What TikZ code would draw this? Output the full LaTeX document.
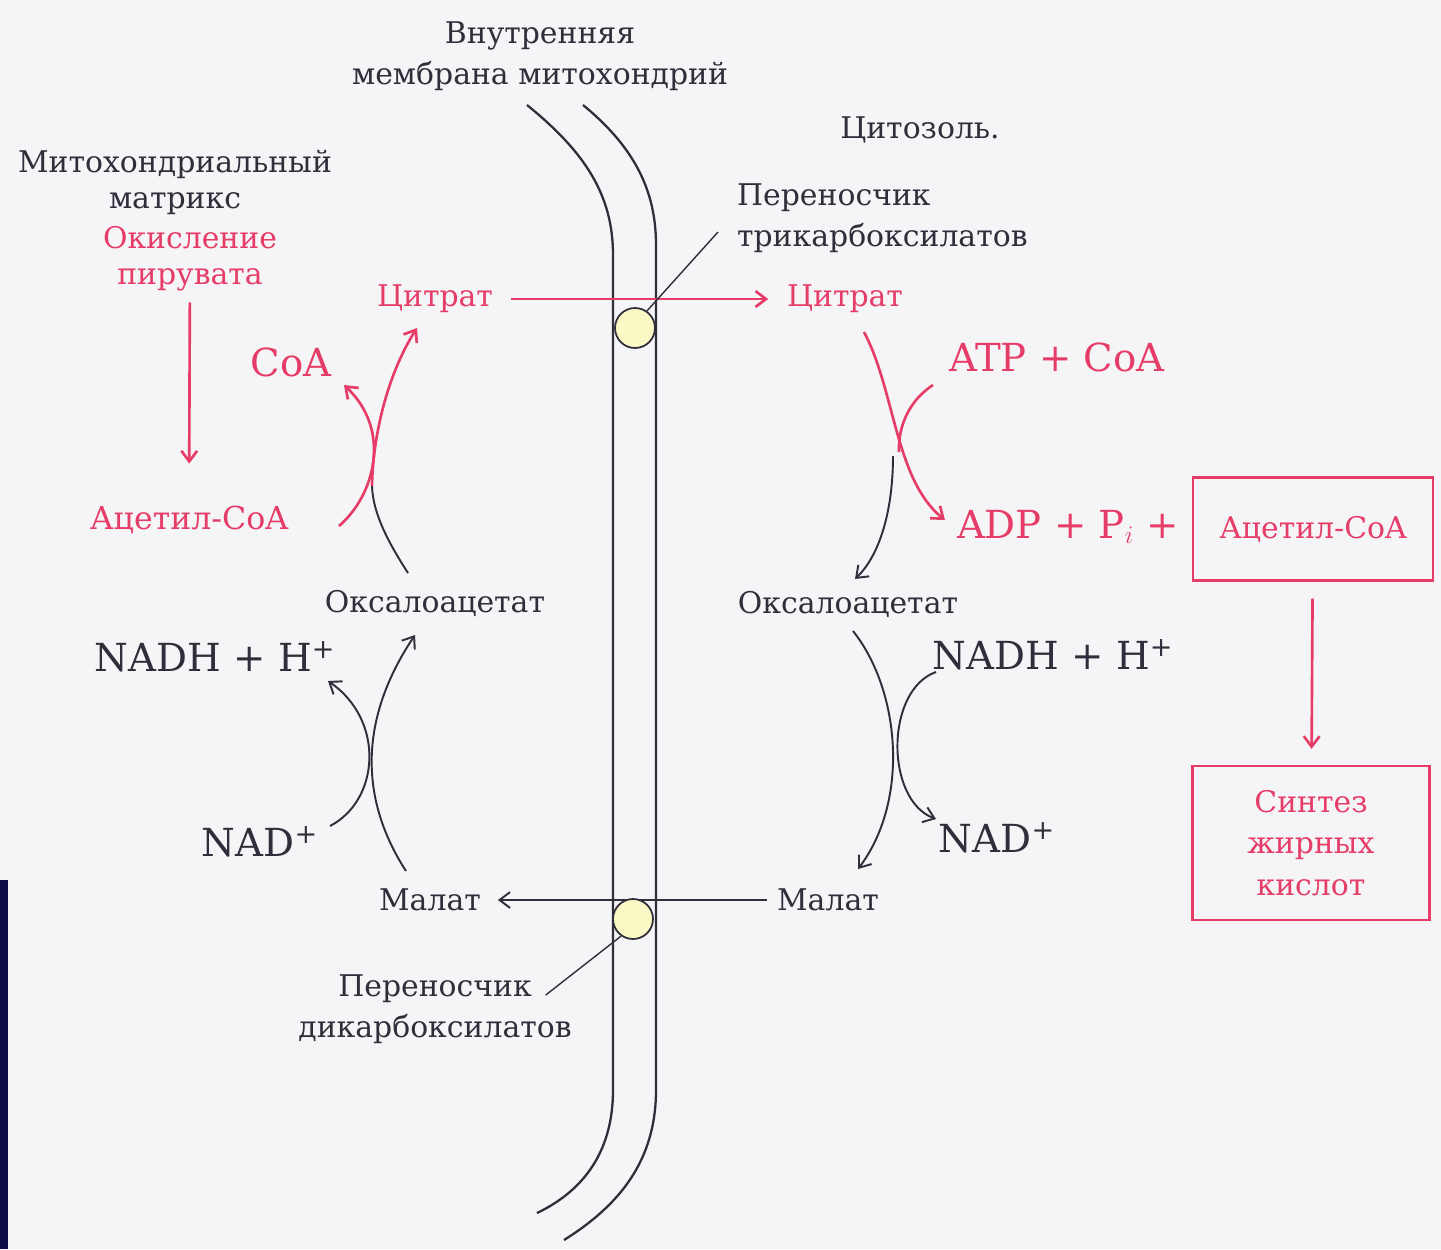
\documentclass[tikz,border=0pt]{standalone}
\usepackage{fontspec}
\setmainfont{DejaVu Serif}
\usetikzlibrary{arrows.meta,positioning}
\definecolor{inkgray}{RGB}{48,46,58}
\definecolor{pinkred}{RGB}{230,60,104}
\definecolor{paper}{RGB}{245,245,247}
\definecolor{carrierfill}{RGB}{250,248,196}
\definecolor{slidenavy}{RGB}{12,12,72}
\def\lblfont{\fontsize{17}{23.5}\selectfont}
\def\tightfont{\fontsize{17}{20.5}\selectfont}
\def\bigfont{\fontsize{22}{26}\selectfont}

\begin{document}
\begin{tikzpicture}[
    x=0.02cm, y=-0.02cm,
    arrowtip/.style={
      -{Straight Barb[length=6pt,width=9pt]}
    },
    membr/.style={draw=inkgray, line width=1.3pt},
    blackline/.style={draw=inkgray, line width=1.1pt},
    redline/.style={draw=pinkred, line width=1.5pt},
    leader/.style={draw=inkgray, line width=0.8pt},
    lbl/.style={text=inkgray, font=\lblfont, inner sep=1pt, align=center},
    redlbl/.style={lbl, text=pinkred},
    biglbl/.style={lbl, font=\bigfont},
    bigred/.style={biglbl, text=pinkred},
    carrier/.style={circle, draw=inkgray, fill=carrierfill, line width=1pt,
      minimum size=0.8cm, inner sep=0pt},
    resbox/.style={draw=pinkred, line width=1.5pt, text=pinkred, font=\lblfont,
      align=center, inner sep=0pt}
  ]
    % page and slide edge
    \fill[paper] (0,0) rectangle (1441,1249);
    \fill[slidenavy] (0,880) rectangle (8,1249);

    % membrane
    \draw[membr] (527,105) .. controls (585,152) and (613,195) .. (613,255)
      -- (613,1090) .. controls (613,1150) and (585,1190) .. (537,1213);
    \draw[membr] (583,105) .. controls (638,150) and (656,195) .. (656,245)
      -- (656,1090) .. controls (656,1160) and (620,1205) .. (564,1240);

    \node[lbl] (title) at (540,56) {Внутренняя\\мембрана митохондрий};
    \node[lbl] (cyto) at (920,130) {Цитозоль.};
    \node[lbl, font=\tightfont] (matrix) at (175,182) {Митохондриальный\\матрикс};
    \node[redlbl, font=\tightfont] (pyr) at (190,259) {Окисление\\пирувата};
    \node[redlbl] (citL) at (435,299) {Цитрат};
    \node[redlbl] (citR) at (845,299) {Цитрат};
    \node[redlbl, font=\fontsize{18}{22}\selectfont] (acL) at (189,520) {Ацетил-CoA};
    \node[lbl] (oxL) at (435,603) {Оксалоацетат};
    \node[lbl] (oxR) at (848,604) {Оксалоацетат};
    \node[lbl] (malL) at (430,900) {Малат};
    \node[lbl] (malR) at (828,900) {Малат};
    \node[lbl] (dicarrier) at (435,1009) {Переносчик\\дикарбоксилатов};
    \node[lbl, anchor=west, align=left] (trcarrier) at (735,218)
      {Переносчик\\трикарбоксилатов};

    \node[bigred] (coaL) at (291,362) {CoA};
    \node[bigred] (atp) at (1057,357) {ATP + CoA};
    \node[bigred] (adp) at (1068,527) {ADP + P$_i$ +};
    \node[biglbl] (nadhL) at (215,657) {NADH + H\textsuperscript{+}};
    \node[biglbl] (nadL) at (260,842) {NAD\textsuperscript{+}};
    \node[biglbl] (nadhR) at (1053,655) {NADH + H\textsuperscript{+}};
    \node[biglbl] (nadR) at (997,838) {NAD\textsuperscript{+}};

    \node[resbox, minimum width=4.8cm, minimum height=2.06cm] (acR) at (1313,529) {Ацетил-CoA};
    \node[resbox, minimum width=4.74cm, minimum height=3.08cm] (fas) at (1311,843)
      {Синтез\\жирных\\кислот};

    % transport across the membrane
    \draw[redline, arrowtip, shorten <=9pt, shorten >=9.5pt] (citL) -- (citR);
    \draw[blackline, arrowtip, shorten <=4.5pt, shorten >=8.5pt] (malR) -- (malL);
    \node[carrier] (carT) at (635,328) {};
    \node[carrier] (carB) at (633,919) {};
    \draw[leader] (carT.55) -- ([shift={(-17,14)}]trcarrier.west);
    \draw[leader] (carB.235) -- ([shift={(-28,-14)}]dicarrier.east);

    \draw[redline, arrowtip, shorten <=5pt, shorten >=23pt] (pyr) -- (acL);
    \draw[redline, arrowtip, shorten <=9.6pt, shorten >=9pt] (acR) -- (fas);

    % matrix side
    \coordinate (oxLup) at (408,573);
    \coordinate (jL) at (372,486);
    \coordinate (citLin) at (417,328);
    \coordinate (acLout) at (339,526);
    \coordinate (coaLin) at (344,385);
    \draw[blackline] (oxLup) .. controls (390,545) and (373,515) .. (jL);
    \draw[redline, arrowtip] (jL) .. controls (373,430) and (390,370) .. (citLin);
    \draw[redline, arrowtip] (acLout) .. controls (375,495) and (392,430) .. (coaLin);

    \coordinate (malLup) at (406,871);
    \coordinate (oxLin) at (415,635);
    \coordinate (nadLout) at (330,826);
    \coordinate (nadhLin) at (328,681);
    \draw[blackline, arrowtip] (malLup) .. controls (360,800) and (358,720) .. (oxLin);
    \draw[blackline, arrowtip] (nadLout) .. controls (380,800) and (385,720) .. (nadhLin);

    % cytosol side
    \coordinate (citRout) at (864,332);
    \coordinate (adpin) at (945,520);
    \coordinate (atpout) at (933,385);
    \coordinate (jR) at (899,452);
    \coordinate (jRb) at (893,456);
    \coordinate (oxRin) at (855,579);
    \draw[redline, arrowtip] (citRout) .. controls (895,390) and (895,480) .. (adpin);
    \draw[redline] (atpout) .. controls (910,400) and (898,425) .. (jR);
    \draw[blackline, arrowtip] (jRb) .. controls (893,510) and (880,555) .. (oxRin);

    \coordinate (oxRout) at (853,631);
    \coordinate (malRin) at (858,869);
    \coordinate (nadhRout) at (936,672);
    \coordinate (nadRin) at (936,819);
    \draw[blackline, arrowtip] (oxRout) .. controls (900,690) and (910,800) .. (malRin);
    \draw[blackline, arrowtip] (nadhRout) .. controls (885,690) and (885,800) .. (nadRin);
\end{tikzpicture}
\end{document}
